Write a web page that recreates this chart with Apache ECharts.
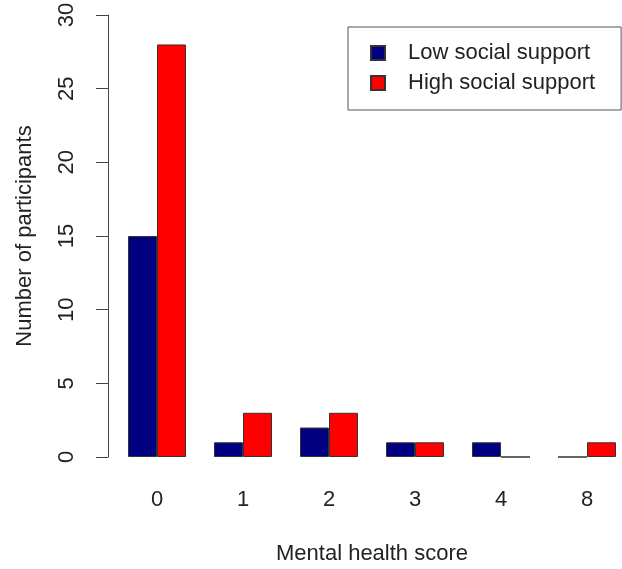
<!DOCTYPE html>
<html>
<head>
<meta charset="utf-8">
<script src="https://cdn.jsdelivr.net/npm/echarts@6/dist/echarts.min.js"></script>
<style>
  html, body { margin: 0; padding: 0; background: #fff; }
  #chart { width: 622px; height: 569px; }
</style>
</head>
<body>
<div id="chart"></div>
<script>
// mental health score categories
var scores = ['0', '1', '2', '3', '4', '8'];
// number of participants per group
var lowSupport = [15, 1, 2, 1, 1, 0];
var highSupport = [28, 3, 3, 1, 0, 1];
var yTicks = [0, 5, 10, 15, 20, 25, 30];

var font = 'Liberation Sans, Arial, sans-serif';
var txt = '#222';

var myChart = echarts.init(document.getElementById('chart'));
myChart.setOption({
    animation: false,
    textStyle: { fontFamily: font },
    grid: {
        left: 114,
        width: 516,
        top: 15,
        bottom: 112,
        outerBoundsMode: 'none'
    },
    legend: {
        orient: 'vertical',
        left: 348,
        top: 27,
        padding: [15, 26, 16, 22],
        itemGap: 8,
        itemWidth: 14,
        itemHeight: 14,
        icon: 'rect',
        borderColor: '#555',
        borderWidth: 1,
        textStyle: {
            fontFamily: font,
            fontSize: 22,
            color: txt,
            padding: [0, 0, 0, 18]
        },
        data: ['Low social support', 'High social support']
    },
    xAxis: {
        type: 'category',
        data: scores,
        name: 'Mental health score',
        nameLocation: 'middle',
        nameGap: 86,
        nameTextStyle: { fontSize: 22, color: txt, fontFamily: font },
        axisLine: { show: false },
        axisTick: { show: false },
        axisLabel: { fontSize: 22, color: txt, margin: 32, fontFamily: font }
    },
    yAxis: {
        type: 'value',
        min: yTicks[0],
        max: yTicks[yTicks.length - 1],
        interval: 5,
        offset: 6,
        name: 'Number of participants',
        nameLocation: 'middle',
        nameGap: 72,
        nameTextStyle: { fontSize: 22, color: txt, fontFamily: font },
        splitLine: { show: false },
        axisLine: { show: true, lineStyle: { color: '#444', width: 1 } },
        axisTick: { show: true, length: 12, lineStyle: { color: '#444', width: 1 } },
        axisLabel: { fontSize: 22, color: txt, rotate: 90, margin: 30, fontFamily: font }
    },
    series: [{
        name: 'Low social support',
        type: 'bar',
        data: lowSupport,
        barWidth: 29,
        barGap: '0%',
        itemStyle: { color: '#000080', borderColor: '#333', borderWidth: 1 }
    }, {
        name: 'High social support',
        type: 'bar',
        data: highSupport,
        barWidth: 29,
        barGap: '0%',
        itemStyle: { color: '#ff0000', borderColor: '#333', borderWidth: 1 }
    }]
});
</script>
</body>
</html>
